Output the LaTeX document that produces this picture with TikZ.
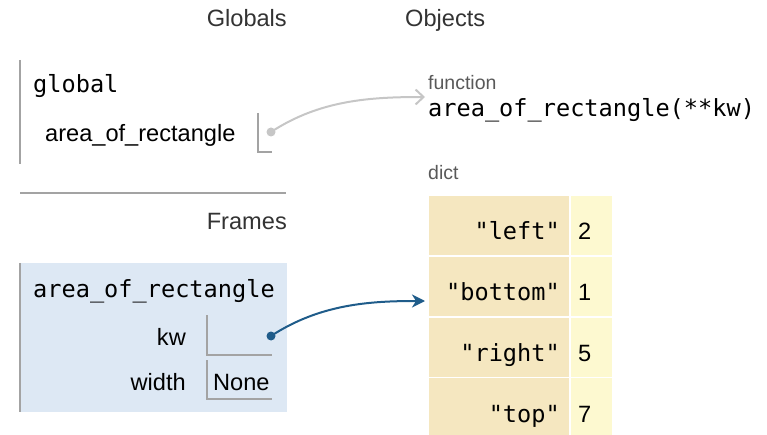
\documentclass[tikz,border=0pt]{standalone}
\usepackage{fontspec}
\setmainfont{Liberation Sans}
\setmonofont{DejaVu Sans Mono}
\usetikzlibrary{arrows.meta}

\definecolor{framebg}{HTML}{DDE8F4}
\definecolor{keybg}{HTML}{F5E7C0}
\definecolor{valbg}{HTML}{FDF9D0}
\definecolor{ptrblue}{HTML}{1F5C8A}
\definecolor{ptrgray}{HTML}{C6C6C6}
\definecolor{rulegray}{HTML}{A3A3A3}

\begin{document}
\begin{tikzpicture}[x=1pt,y=-1pt,
  hdr/.style={inner sep=0pt,text=black!80,font=\fontsize{23.6}{28}\selectfont},
  nametxt/.style={inner sep=0pt,font=\fontsize{23.6}{28}\selectfont},
  codetxt/.style={inner sep=0pt,font=\ttfamily\fontsize{23.6}{28}\selectfont},
  tagtxt/.style={inner sep=0pt,text=black!65,font=\fontsize{19.5}{24}\selectfont},
  ptrdot/.style={circle,inner sep=0pt,minimum size=9pt},
  slot/.style={draw=rulegray,line width=1.3pt}]
  \useasboundingbox (0,0) rectangle (767,435);

  % headers
  \node[hdr,anchor=base east] (globhdr) at (287,27) {Globals};
  \node[hdr,anchor=base west] (objhdr) at (405,27) {Objects};
  \node[hdr,anchor=base east] (framehdr) at (287,230) {Frames};

  % global frame
  \draw[rulegray,line width=1.3pt] (20,60) -- (20,164);
  \node[codetxt,anchor=base west] (globname) at (33,93) {global};
  \node[nametxt,anchor=base west] (globvar) at (45,142) {area\_of\_rectangle};
  \draw[slot] (258,113) -- (258,152) -- (272,152);
  \node[ptrdot,fill=ptrgray] (globptr) at (271,132) {};
  \draw[rulegray,line width=1.3pt] (20,193) -- (286,193);

  % function frame
  \fill[framebg] (20,263) rectangle (287,412);
  \draw[rulegray,line width=1.3pt] (20,263) -- (20,412);
  \node[codetxt,anchor=base west] (framename) at (33,297) {area\_of\_rectangle};
  \node[nametxt,anchor=base east] (kwvar) at (186,345) {kw};
  \node[nametxt,anchor=base east] (widthvar) at (186,390) {width};
  \draw[slot] (207,315) -- (207,355) -- (272,355);
  \draw[slot] (207,360) -- (207,399) -- (272,399);
  \node[nametxt,anchor=base west] (widthval) at (213,390) {None};
  \node[ptrdot,fill=ptrblue] (kwptr) at (271,336) {};

  % objects
  \node[tagtxt,anchor=base west] (functag) at (428,90) {function};
  \node[codetxt,anchor=base west] (funcobj) at (428,117) {area\_of\_rectangle(**kw)};
  \coordinate (funcin) at (425,97);
  \node[tagtxt,anchor=base west] (dicttag) at (428,180) {dict};
  \coordinate (dictin) at (425,301);

  \foreach \key/\val [count=\i from 0] in {left/2,bottom/1,right/5,top/7} {
    \pgfmathsetmacro\ytop{196+60.8*\i}
    \fill[keybg] (429,\ytop) rectangle (569,\ytop+59);
    \fill[valbg] (571,\ytop) rectangle (612,\ytop+59);
    \node[codetxt,anchor=base east] (key\i) at (560,\ytop+44) {"\key"};
    \node[nametxt,anchor=base west] (val\i) at (578,\ytop+44) {\val};
  }

  % pointers
  \draw[ptrgray,line width=2pt,-{Straight Barb[length=8pt,width=15pt]}]
    (globptr.center) .. controls (320,100) and (370,97) .. (funcin);
  \draw[ptrblue,line width=2pt,-{Stealth[length=13pt,width=13pt,inset=4pt]}]
    (kwptr.center) .. controls (320,304) and (370,301) .. (dictin);
\end{tikzpicture}
\end{document}
